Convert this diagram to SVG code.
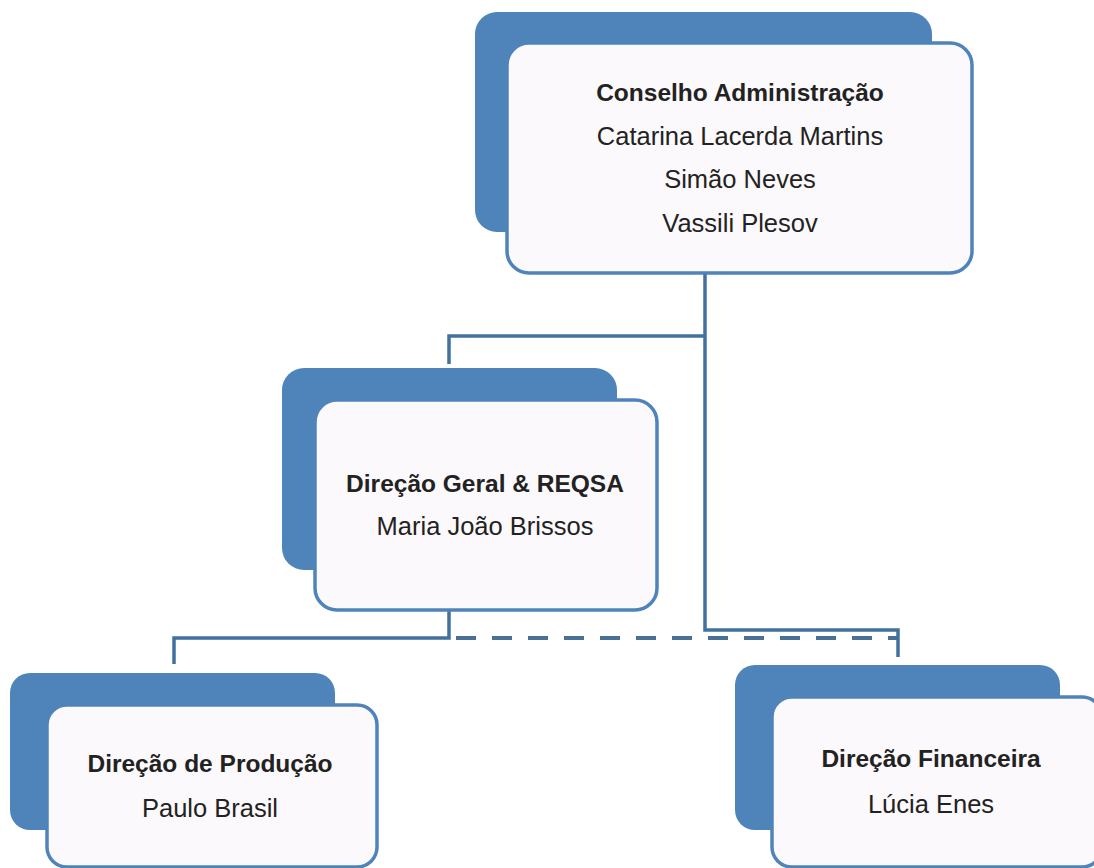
<svg xmlns="http://www.w3.org/2000/svg" width="1094" height="868" viewBox="0 0 1094 868">
<style>
.back{fill:#4f84bb;}
.front{fill:#fcf9fc;stroke:#4f84bb;stroke-width:3.5;}
.t{font-family:"Liberation Sans",Arial,sans-serif;font-size:25.5px;fill:#222;text-anchor:middle;}
.b{font-weight:bold;font-size:24.5px;}
.c{fill:none;stroke:#41719f;stroke-width:3.5;}
.d{fill:none;stroke:#4a7098;stroke-width:4;stroke-dasharray:20 16;}
</style>
<rect width="1094" height="868" fill="#ffffff"/>
<g id="connectors">
<polyline class="c" points="705,273 705,630 898,630 898,657"/>
<polyline class="c" points="705,336 449,336 449,364"/>
<polyline class="c" points="449,610 449,638 174,638 174,664"/>
<line class="d" x1="456" y1="638" x2="898" y2="638"/>
</g>
<g id="conselho">
<rect class="back" x="475" y="12" width="457" height="220" rx="22"/>
<rect class="front" x="507" y="43" width="465" height="230" rx="22"/>
<text class="t b" x="740" y="101">Conselho Administração</text>
<text class="t" x="740" y="145">Catarina Lacerda Martins</text>
<text class="t" x="740" y="188">Simão Neves</text>
<text class="t" x="740" y="232">Vassili Plesov</text>
</g>
<g id="direcao-geral">
<rect class="back" x="282" y="368" width="335" height="202" rx="22"/>
<rect class="front" x="315" y="400" width="342" height="210" rx="22"/>
<text class="t b" x="485" y="492">Direção Geral &amp; REQSA</text>
<text class="t" x="485" y="535">Maria João Brissos</text>
</g>
<g id="direcao-producao">
<rect class="back" x="10" y="673" width="325" height="157" rx="20"/>
<rect class="front" x="47" y="705" width="330" height="162" rx="20"/>
<text class="t b" x="210" y="772">Direção de Produção</text>
<text class="t" x="210" y="817">Paulo Brasil</text>
</g>
<g id="direcao-financeira">
<rect class="back" x="735" y="665" width="325" height="165" rx="20"/>
<rect class="front" x="772" y="697" width="330" height="170" rx="20"/>
<text class="t b" x="931" y="767">Direção Financeira</text>
<text class="t" x="931" y="813">Lúcia Enes</text>
</g>
</svg>
